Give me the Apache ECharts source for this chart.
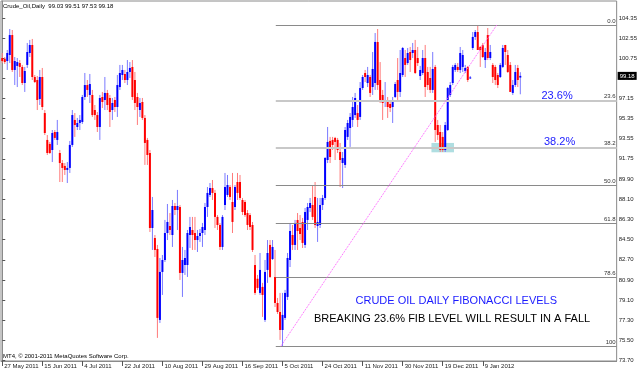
<!DOCTYPE html>
<html><head><meta charset="utf-8">
<script src="https://cdn.jsdelivr.net/npm/echarts@6/dist/echarts.min.js"></script>
<style>html,body{margin:0;padding:0;background:#fff}#c{width:640px;height:372px}</style>
</head><body><div id="c"></div>
<script>
// ---------- DATA ----------
const dateLabels = ['27 May 2011','15 Jun 2011','4 Jul 2011','22 Jul 2011','10 Aug 2011','29 Aug 2011','16 Sep 2011','5 Oct 2011','24 Oct 2011','11 Nov 2011','30 Nov 2011','19 Dec 2011','9 Jan 2012'];
const barsPerLabel = 16;
const yTickLabels = ['73.70','75.50','77.30','79.10','80.90','82.70','84.50','86.30','88.10','89.90','91.75','93.55','95.35','97.15','98.95','100.75','102.55','104.35'];

// rows: [open, close, low, high]
const wk27May = [[100.78,100.51,100.33,101.23],[100.69,100.42,100.25,100.87],[100.51,101.23,99.71,101.5],[101.05,102.84,100.33,103.38],[102.84,99.71,99.53,103.29],[99.71,100.51,98.36,100.87],[100.07,100.42,98.18,100.78],[100.33,99.98,99.08,100.6],[99.98,98.54,98.36,100.16],[98.54,99.62,97.74,99.98],[100.16,101.32,99.89,102.13],[101.23,101.95,100.87,102.4],[101.95,99.08,98.81,102.49],[99.08,98.63,98.54,99.26],[98.81,97.02,96.12,99.17],[97.11,99.08,96.57,99.71]];
const wk15Jun = [[99.08,96.39,96.12,99.89],[95.85,94.06,93.88,96.12],[93.44,92.27,92.09,93.88],[93.08,92.27,92.18,93.26],[92.54,94.06,91.46,94.33],[94.15,93.62,93.44,94.33],[93.44,94.15,92.99,95.23],[92.27,91.37,89.67,92.54],[91.37,90.93,89.67,91.64],[91.11,90.75,90.3,91.37],[90.75,90.93,89.58,91.46],[90.93,92.99,90.48,93.35],[92.99,95.67,92.81,96.12],[95.23,94.78,93.71,95.85],[94.6,94.96,94.33,95.41],[94.96,95.23,94.33,95.67]];
const wk4Jul = [[95.05,97.29,94.87,97.47],[97.29,98.36,97.02,99.44],[98.36,97.92,97.29,98.81],[97.47,98.45,96.75,99.35],[97.47,95.67,95.5,97.92],[96.12,95.67,95.23,96.57],[95.67,94.6,94.15,95.94],[94.6,97.2,93.44,97.47],[97.29,96.84,96.3,97.74],[97.02,97.65,96.12,99.08],[97.65,96.57,96.12,97.92],[97.2,95.94,94.6,97.47],[96.12,96.75,95.23,97.2],[97.02,96.39,95.94,97.29],[96.39,98.36,95.5,99.26],[98.18,99.44,97.92,100.16]];
const wk22Jul = [[99.26,99.71,98.81,100.16],[99.35,98.81,98.54,99.71],[98.81,99.53,98.36,100.6],[99.53,99.89,98.99,100.42],[99.98,97.29,97.02,100.6],[98.81,96.75,96.12,99.53],[97.29,96.39,94.78,97.65],[96.12,96.75,95.5,97.2],[96.84,95.41,95.23,97.2],[95.41,93.17,91.2,95.67],[93.44,92.09,91.2,93.62],[92.27,85.55,85.19,92.54],[85.55,87.16,83.58,88.33],[84.65,83.58,82.95,84.92],[83.67,77.49,75.7,84.03],[77.31,81.61,77.04,82.86]];
const wk10Aug = [[81.61,82.68,79.55,83.13],[82.68,85.1,82.5,86.27],[85.1,86.09,84.47,87.7],[85.73,85.37,84.92,86.89],[84.92,87.52,83.85,88.06],[87.52,87.16,86.71,87.79],[87.16,87.52,85.37,88.96],[87.43,81.52,80.89,87.61],[81.52,82.68,79.37,83.85],[82.23,82.86,81.34,83.58],[82.23,85.1,81.16,85.37],[84.92,85.64,83.76,86.54],[85.37,84.92,83.58,86.54],[85.1,84.47,83.58,86.54],[84.47,84.83,83.4,85.37],[84.83,85.1,84.3,85.46]];
const wk29Aug = [[85.1,85.64,83.85,86.0],[85.37,87.43,84.92,87.79],[87.43,88.69,86.54,89.22],[88.51,89.13,88.33,89.58],[89.13,88.69,88.06,89.85],[88.69,86.54,85.55,88.96],[86.54,85.82,85.37,86.71],[85.82,83.85,83.58,86.0],[83.85,86.54,83.58,86.71],[87.61,89.22,87.16,90.48],[88.51,89.4,88.33,90.3],[89.22,88.33,88.06,89.4],[87.88,86.09,85.1,90.48],[87.43,89.22,87.16,89.4],[89.67,88.69,88.06,90.48],[89.67,88.24,88.06,90.3]];
const wk16Sep = [[88.06,86.98,86.71,88.24],[87.88,86.71,86.54,88.06],[86.89,85.82,85.37,87.16],[86.71,85.64,85.37,86.89],[85.82,83.58,83.4,86.09],[82.23,79.73,79.55,83.13],[81.0,80.18,80.0,81.34],[79.73,81.79,79.55,83.31],[80.27,79.55,77.58,80.63],[77.31,81.61,77.13,82.68],[81.79,83.31,80.63,84.47],[84.03,81.16,81.07,84.47],[82.77,83.85,82.68,84.47],[81.16,78.83,78.47,83.58],[78.83,78.02,77.85,79.28],[78.02,76.41,75.52,79.73]];
const wk5Oct = [[76.41,77.76,74.95,79.73],[77.49,79.73,77.31,80.0],[79.37,82.86,79.1,83.31],[82.68,85.28,82.05,86.0],[84.92,84.03,83.58,85.82],[84.03,86.0,83.58,86.27],[86.27,85.28,83.58,86.89],[85.55,85.01,84.47,86.71],[86.09,84.21,83.76,86.45],[84.03,86.98,83.76,87.34],[86.27,87.43,85.37,87.79],[87.34,87.79,86.98,88.24],[87.61,86.54,86.27,89.4],[88.33,85.82,85.55,89.67],[85.73,86.09,84.3,88.24],[85.82,87.61,85.55,88.24]];
const wk24Oct = [[87.61,88.24,87.16,88.51],[88.24,91.82,88.06,91.91],[91.64,93.26,91.37,94.6],[93.35,91.91,91.37,93.71],[93.44,92.99,92.54,93.71],[93.62,93.26,91.64,93.71],[93.44,92.54,92.27,93.62],[92.36,91.64,89.22,93.17],[91.37,91.82,89.13,92.36],[91.2,94.33,90.93,94.6],[93.71,94.96,93.44,95.23],[94.51,95.5,92.81,95.85],[95.23,96.39,94.6,97.29],[95.67,97.2,95.41,97.65],[95.85,95.23,94.6,96.57],[95.5,98.09,95.23,98.63]];
const wk11Nov = [[98.09,99.08,97.92,99.26],[99.44,99.08,98.63,99.71],[98.54,99.26,98.18,99.98],[99.08,97.65,97.29,99.26],[98.18,99.8,97.47,101.32],[98.54,102.22,97.92,103.02],[102.22,98.36,97.92,103.38],[98.81,97.02,96.75,100.42],[97.47,96.75,95.23,97.92],[96.84,97.02,96.39,98.63],[97.02,96.39,95.41,97.29],[96.66,96.3,95.94,97.02],[96.39,97.02,94.96,97.29],[97.29,98.45,97.2,98.63],[98.81,97.74,97.02,100.78],[97.74,99.44,97.29,101.5]];
const wk30Nov = [[99.26,101.68,99.08,101.77],[100.78,100.16,99.08,101.5],[100.33,101.23,100.16,101.68],[101.32,100.6,99.53,101.77],[101.23,101.5,100.78,102.13],[101.5,99.44,99.35,102.4],[100.78,100.33,100.07,101.77],[99.17,99.71,98.81,100.07],[99.44,100.78,99.26,101.5],[100.78,98.18,97.29,101.95],[99.53,98.36,97.92,99.98],[98.99,97.92,97.65,99.98],[97.92,99.8,97.65,101.32],[99.98,94.33,93.26,100.16],[94.78,93.88,93.44,95.23],[94.15,92.54,92.36,94.78]];
const wk19Dec = [[93.71,92.54,92.36,94.15],[92.54,94.78,92.36,95.05],[94.33,98.09,94.24,98.18],[97.47,98.36,97.29,98.63],[98.54,99.98,98.36,100.16],[99.71,100.16,99.53,100.33],[99.98,99.71,99.53,100.33],[99.71,101.23,99.44,101.77],[99.98,101.05,99.53,101.5],[99.62,99.89,99.44,100.16],[99.98,98.81,98.63,100.07],[98.95,99.04,98.9,99.17],[101.68,102.67,101.5,103.11],[102.67,103.11,102.4,103.29],[103.11,101.5,101.5,103.74],[101.77,101.5,99.98,101.86]];
const wk9Jan = [[101.95,100.87,100.78,102.13],[100.6,101.32,99.89,101.68],[102.84,100.78,100.6,103.47],[100.78,101.32,100.6,101.95],[100.16,99.08,98.54,100.33],[99.98,98.81,98.36,100.16],[99.26,98.36,98.09,99.44],[99.08,100.16,98.99,100.33],[99.98,101.68,99.89,101.95],[101.95,101.32,100.16,101.95],[101.05,99.53,99.44,101.5],[100.16,97.74,97.74,100.42],[97.65,98.36,97.47,98.81],[98.36,99.53,98.18,100.16],[99.89,98.81,98.18,100.16],[99.03,99.18,97.53,99.51]];

// last quote as shown in header (O H L C)
const lastQuote = [99.03, 99.51, 97.53, 99.18];

// Fibonacci retracement tool
const fibHigh = 103.74, fibLow = 74.95;
const fibLevels = [0, 23.6, 38.2, 50, 61.8, 78.6, 100];
const fibLevelNames = ['0.0','23.6','38.2','50.0','61.8','78.6','100'];
const fibLevelStartBar = 109.3;                      // where level rays begin (bar index)
const fibLowBar = 111.3, fibHighBar = 197.6;         // anchor times of the diagonal
const highlightBars = [171.5, 180.5];                // rectangle time span
const highlightPrices = [92.33, 93.17];              // rectangle price span

// ---------- BUILD ----------
const allBars = [].concat(wk27May, wk15Jun, wk4Jul, wk22Jul, wk10Aug, wk29Aug, wk16Sep, wk5Oct, wk24Oct, wk11Nov, wk30Nov, wk19Dec, wk9Jan);
const candleData = allBars.map((r, i) => [i, r[0], r[1], r[2], r[3]]);
const xTicks = dateLabels.map((d, k) => k * barsPerLabel);
const yTicks = yTickLabels.map(Number);

const UP = '#0000ff', DN = '#ff0000', WICK_UP = '#7a7aff', WICK_DN = '#ff7a7a';
const FONT = 'Liberation Sans, Arial, sans-serif';

function renderCandle(params, api) {
  const i = api.value(0), o = api.value(1), c = api.value(2), l = api.value(3), h = api.value(4);
  const pO = api.coord([i, o]), pC = api.coord([i, c]);
  const pL = api.coord([i, l]), pH = api.coord([i, h]);
  const up = c >= o;
  const x = pO[0];
  const top = Math.min(pO[1], pC[1]);
  const hgt = Math.max(1, Math.abs(pO[1] - pC[1]));
  return {
    type: 'group',
    children: [
      { type: 'line', shape: { x1: x, y1: pH[1], x2: x, y2: pL[1] }, style: { stroke: up ? WICK_UP : WICK_DN, lineWidth: 1 } },
      { type: 'rect', shape: { x: x - 1, y: top, width: 2, height: hgt }, style: { fill: up ? UP : DN } }
    ]
  };
}

const fibLines = fibLevels.map((lv, k) => {
  const price = fibHigh - (fibHigh - fibLow) * lv / 100;
  const light = (lv === 23.6 || lv === 38.2);
  return [
    { coord: [fibLevelStartBar, price],
      lineStyle: { color: light ? '#c8c8c8' : '#8a8a8a', width: light ? 2 : 1, type: 'solid' },
      label: { show: true, formatter: fibLevelNames[k], position: 'insideEndTop', fontSize: 6, fontFamily: FONT, color: '#333', distance: 1 } },
    { coord: [245.5, price] }
  ];
});
const trendLine = [
  { coord: [fibLowBar, fibLow], lineStyle: { color: '#ff55ff', width: 1, type: 'dotted' }, label: { show: false } },
  { coord: [fibHighBar, fibHigh] }
];

const chart = echarts.init(document.getElementById('c'), null, { renderer: 'canvas' });
chart.setOption({
  animation: false,
  backgroundColor: '#fff',
  grid: { left: 1, right: 23, top: 1, bottom: 11, show: true, borderColor: '#8a8a8a', borderWidth: 1, backgroundColor: 'transparent' },
  xAxis: {
    type: 'value', min: -0.5, max: 245.5,
    axisLine: { show: true, lineStyle: { color: '#8a8a8a' } },
    axisTick: { show: true, customValues: xTicks, length: 5, lineStyle: { color: '#555' } },
    axisLabel: { customValues: xTicks, formatter: v => dateLabels[Math.round(v / barsPerLabel)] || '',
                 align: 'left', fontSize: 6, fontFamily: FONT, color: '#222', margin: 2, padding: [0, 0, 0, 2] },
    splitLine: { show: false }
  },
  yAxis: {
    type: 'value', position: 'right', min: 73.63, max: 105.89,
    axisLine: { show: true, lineStyle: { color: '#8a8a8a' } },
    axisTick: { show: true, customValues: yTicks, length: 3, lineStyle: { color: '#555' } },
    axisLabel: { customValues: yTicks, formatter: v => v.toFixed(2), fontSize: 6, fontFamily: FONT, color: '#222', margin: 2 },
    splitLine: { show: false }
  },
  series: [{
    type: 'custom', name: 'Crude_Oil', renderItem: renderCandle, data: candleData,
    encode: { x: 0, y: [1, 2, 3, 4] }, silent: true, z: 2,
    markArea: {
      silent: true,
      itemStyle: { color: 'rgba(110,195,200,0.55)' },
      data: [[{ coord: [highlightBars[0], highlightPrices[1]] }, { coord: [highlightBars[1], highlightPrices[0]] }]]
    },
    markLine: {
      silent: true, symbol: ['none', 'none'], animation: false,
      data: fibLines.concat([trendLine])
    }
  }, {
    // current price tag on the price scale
    type: 'line', name: 'bid', data: [], silent: true, z: 10,
    markLine: {
      silent: true, symbol: ['none', 'none'], animation: false,
      lineStyle: { color: 'rgba(0,0,0,0)', width: 1 },
      label: { show: true, position: 'end', formatter: () => lastQuote[3].toFixed(2), backgroundColor: '#000', color: '#fff',
               fontSize: 6, fontFamily: FONT, padding: [1, 2, 1, 2], distance: 1 },
      data: [{ yAxis: lastQuote[3] }]
    }
  }],
  graphic: [
    { type: 'text', x: 3, y: 6, z: 100, style: { text: 'Crude_Oil,Daily  ' + lastQuote.map(v => v.toFixed(2)).join(' '), fontSize: 6, fontFamily: FONT, fill: '#000', verticalAlign: 'middle' } },
    { type: 'text', x: 3, y: 356, z: 100, style: { text: 'MT4, \u00a9 2001-2011 MetaQuotes Software Corp.', fontSize: 6, fontFamily: FONT, fill: '#000', verticalAlign: 'middle' } },
    { type: 'text', x: 541.5, y: 95.5, z: 100, style: { text: '23.6%', fontSize: 11, fontFamily: FONT, fill: '#1a1aff', verticalAlign: 'middle' } },
    { type: 'text', x: 544, y: 142, z: 100, style: { text: '38.2%', fontSize: 11, fontFamily: FONT, fill: '#1a1aff', verticalAlign: 'middle' } },
    { type: 'text', x: 355.5, y: 301, z: 100, style: { text: 'CRUDE OIL DAILY FIBONACCI LEVELS', fontSize: 11, fontFamily: FONT, fill: '#1a1aff', verticalAlign: 'middle' } },
    { type: 'text', x: 314, y: 319, z: 100, style: { text: 'BREAKING 23.6% FIB LEVEL WILL RESULT IN A FALL', fontSize: 11, fontFamily: FONT, fill: '#000', verticalAlign: 'middle' } }
  ]
});
</script>
</body></html>
